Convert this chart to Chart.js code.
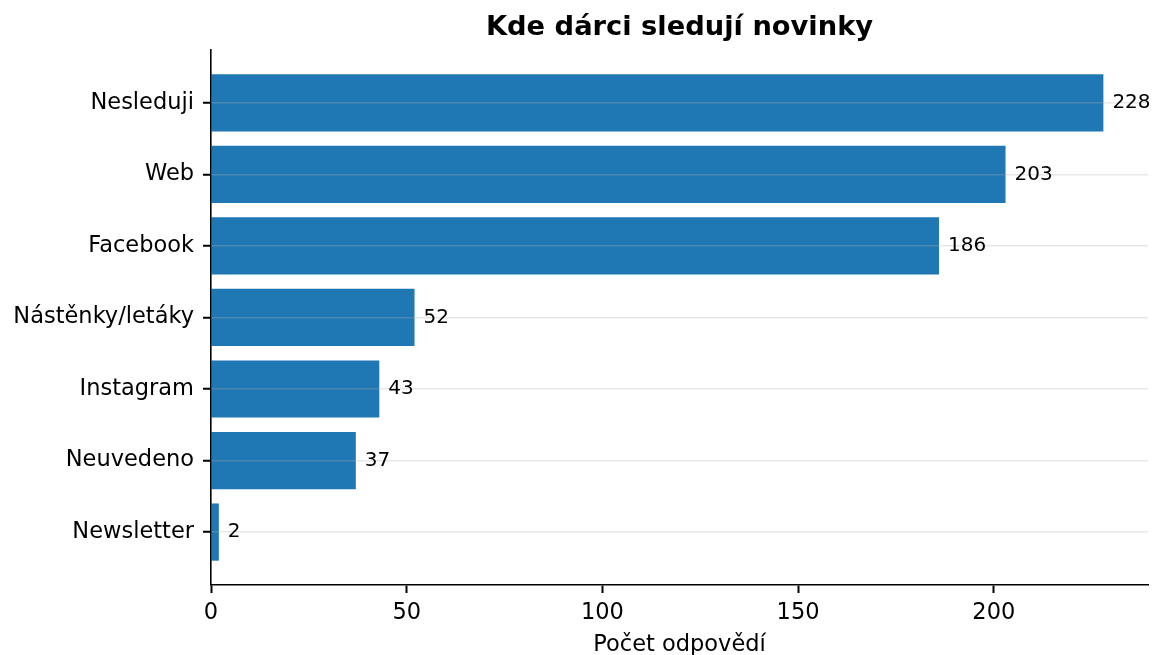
<!DOCTYPE html>
<html>
<head>
<meta charset="utf-8">
<script src="https://cdn.jsdelivr.net/npm/chart.js@4/dist/chart.umd.min.js"></script>
<style>
  html, body { margin: 0; padding: 0; background: #fff; }
  #wrap { width: 1153px; height: 655px; }
</style>
</head>
<body>
<div id="wrap"><canvas id="chart"></canvas></div>
<script>
// data
const categories = ['Nesleduji', 'Web', 'Facebook', 'Nástěnky/letáky', 'Instagram', 'Neuvedeno', 'Newsletter'];
const counts = [228, 203, 186, 52, 43, 37, 2];
const xTicks = [0, 50, 100, 150, 200];

const FONT = 'DejaVu Sans';

// value labels right of each bar
const valueLabels = {
    id: 'valueLabels',
    afterDraw(chart) {
        const ctx = chart.ctx;
        const meta = chart.getDatasetMeta(0);
        ctx.save();
        ctx.font = '20px "' + FONT + '"';
        ctx.fillStyle = '#000';
        ctx.textAlign = 'left';
        ctx.textBaseline = 'middle';
        meta.data.forEach((bar, i) => {
            ctx.fillText(String(counts[i]), bar.x + 9, bar.y);
        });
        ctx.restore();
    }
};

const maxVal = Math.max(...counts);

new Chart(document.getElementById('chart').getContext('2d'), {
    type: 'bar',
    data: {
        datasets: [{
            data: counts.map((v, i) => ({ x: v, y: i })),
            backgroundColor: '#1f77b4',
            borderWidth: 0,
            barPercentage: 0.8,
            categoryPercentage: 1
        }]
    },
    options: {
        indexAxis: 'y',
        responsive: true,
        maintainAspectRatio: false,
        animation: false,
        layout: { padding: { left: 0, right: 5, top: 0, bottom: 0 } },
        plugins: {
            legend: { display: false },
            tooltip: { enabled: false },
            title: {
                display: true,
                text: 'Kde dárci sledují novinky',
                fullSize: false,
                color: '#000',
                font: { family: FONT, size: 27.3, weight: 'bold' },
                padding: { top: 12, bottom: 5.2 }
            }
        },
        scales: {
            x: {
                type: 'linear',
                min: 0,
                max: maxVal * 1.05,
                afterBuildTicks: s => { s.ticks = xTicks.map(v => ({ value: v })); },
                afterFit: s => { s.height = 70; },
                grid: { drawOnChartArea: false, tickLength: 8, tickColor: '#000', tickWidth: 2 },
                border: { color: '#000', width: 1.6 },
                ticks: { color: '#000', padding: 7, font: { family: FONT, size: 22.5 } },
                title: {
                    display: true,
                    text: 'Počet odpovědí',
                    color: '#000',
                    font: { family: FONT, size: 22.5 },
                    padding: { top: 0, bottom: -4 }
                }
            },
            y: {
                type: 'linear',
                reverse: true,
                offset: false,
                min: -0.74,
                max: categories.length - 1 + 0.74,
                afterBuildTicks: s => { s.ticks = categories.map((c, i) => ({ value: i })); },
                afterFit: s => { s.width = 211; },
                grid: { z: 1, offset: false, color: 'rgba(176,176,176,0.3)', lineWidth: 1.5, tickLength: 8, tickColor: '#000', tickWidth: 2 },
                border: { z: 1, color: '#000', width: 1.6 },
                ticks: {
                    color: '#000',
                    padding: 9,
                    font: { family: FONT, size: 22.5 },
                    callback: v => categories[v]
                }
            }
        }
    },
    plugins: [valueLabels]
});
</script>
</body>
</html>
